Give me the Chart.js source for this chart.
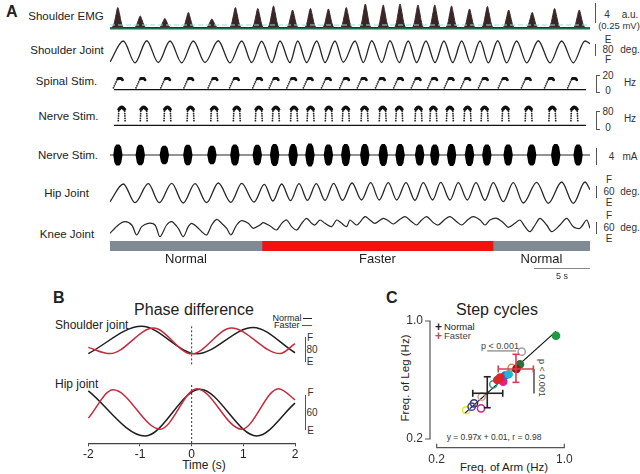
<!DOCTYPE html>
<html>
<head>
<meta charset="utf-8">
<script src="https://cdn.jsdelivr.net/npm/chart.js@4.4.1/dist/chart.umd.min.js"></script>
<style>
  body { margin: 0; background: #fff; }
  #fig { position: relative; width: 640px; height: 474px; overflow: hidden; font-family: 'Liberation Sans', Arial, sans-serif; color: #222; }
  #fig canvas { position: absolute; }
  .t { position: absolute; white-space: nowrap; line-height: 1; transform: translate(-50%, -50%); font-size: 11.5px; }
  .tl { position: absolute; white-space: nowrap; line-height: 1; transform: translate(0, -50%); font-size: 12px; }
  .tr { position: absolute; white-space: nowrap; line-height: 1; transform: translate(-100%, -50%); font-size: 9px; }
  .u { position: absolute; white-space: nowrap; line-height: 1; transform: translate(-50%, -50%); font-size: 10px; color: #333; }
  .vb { position: absolute; width: 0; border-left: 1px solid #555; }
  .br { position: absolute; width: 3px; border: 1px solid #555; border-right: none; }
  .hb { position: absolute; height: 0; border-top: 1px solid #777; }
</style>
</head>
<body>
<div id="fig">
  <!-- panel A -->
  <div class="tl" style="left:6px;top:12px;font-size:16px;font-weight:bold">A</div>
  <div class="t" style="left:66px;top:17px">Shoulder EMG</div>
  <div class="t" style="left:67px;top:50.5px">Shoulder Joint</div>
  <div class="t" style="left:66.5px;top:82px">Spinal Stim.</div>
  <div class="t" style="left:68.5px;top:116.5px">Nerve Stim.</div>
  <div class="t" style="left:68px;top:156px">Nerve Stim.</div>
  <div class="t" style="left:66.5px;top:194px">Hip Joint</div>
  <div class="t" style="left:67px;top:235px">Knee Joint</div>

  <div class="vb" style="left:595px;top:3px;height:20px"></div>
  <div class="u" style="left:607px;top:15px">4</div>
  <div class="u" style="left:630px;top:15px">a.u.</div>
  <div class="u" style="left:619px;top:25.5px;font-size:9.5px">(0.25 mV)</div>

  <div class="vb" style="left:595px;top:44px;height:12px"></div>
  <div class="u" style="left:608px;top:40px">E</div>
  <div class="u" style="left:608px;top:49.5px">80</div>
  <div class="u" style="left:608px;top:60px">F</div>
  <div class="u" style="left:630px;top:49.5px">deg.</div>

  <div class="br" style="left:596px;top:75px;height:16px"></div>
  <div class="u" style="left:608px;top:76px">20</div>
  <div class="u" style="left:608px;top:91px">0</div>
  <div class="u" style="left:630px;top:83px">Hz</div>

  <div class="br" style="left:596px;top:111px;height:17px"></div>
  <div class="u" style="left:608px;top:111.5px">80</div>
  <div class="u" style="left:608px;top:127.5px">0</div>
  <div class="u" style="left:630px;top:119px">Hz</div>

  <div class="vb" style="left:596px;top:148px;height:17px"></div>
  <div class="u" style="left:611.5px;top:156.5px">4</div>
  <div class="u" style="left:630px;top:156.5px">mA</div>

  <div class="vb" style="left:596px;top:186px;height:12px"></div>
  <div class="u" style="left:609px;top:180px">F</div>
  <div class="u" style="left:609px;top:191.7px">60</div>
  <div class="u" style="left:609px;top:202.7px">E</div>
  <div class="u" style="left:630px;top:191.7px">deg.</div>

  <div class="vb" style="left:596px;top:221.5px;height:12px"></div>
  <div class="u" style="left:609px;top:216px">F</div>
  <div class="u" style="left:609px;top:227.7px">60</div>
  <div class="u" style="left:609px;top:239.3px">E</div>
  <div class="u" style="left:630px;top:228px">deg.</div>

  <!-- panel B -->
  <div class="tl" style="left:53px;top:298px;font-size:16px;font-weight:bold">B</div>
  <div class="t" style="left:194px;top:310px;font-size:16px">Phase difference</div>
  <div class="tr" style="left:301.5px;top:317.5px">Normal</div>
  <div class="hb" style="left:303px;top:318px;width:9px;border-color:#222"></div>
  <div class="tr" style="left:299.5px;top:324.5px">Faster</div>
  <div class="hb" style="left:302px;top:324.5px;width:10px;border-color:#c8283c"></div>
  <div class="tl" style="left:55px;top:325px">Shoulder joint</div>
  <div class="tl" style="left:55px;top:383.5px">Hip joint</div>
  <div class="t" style="left:204px;top:465px;font-size:12px">Time (s)</div>
  <div class="vb" style="left:305px;top:337px;height:25px"></div>
  <div class="u" style="left:310px;top:337.7px">F</div>
  <div class="u" style="left:312px;top:350px">80</div>
  <div class="u" style="left:310px;top:362.3px">E</div>
  <div class="vb" style="left:305px;top:395px;height:35px"></div>
  <div class="u" style="left:310.5px;top:393.3px">F</div>
  <div class="u" style="left:312px;top:413.3px">60</div>
  <div class="u" style="left:310.5px;top:430.7px">E</div>

  <!-- panel C -->
  <div class="tl" style="left:386px;top:298px;font-size:16px;font-weight:bold">C</div>
  <div class="t" style="left:497px;top:310px;font-size:16px">Step cycles</div>
  <div class="t" style="left:438.5px;top:326.5px;font-size:12px;font-weight:bold">+</div>
  <div class="tl" style="left:444px;top:326.5px;font-size:9.5px">Normal</div>
  <div class="t" style="left:438.5px;top:336px;font-size:12px;font-weight:bold;color:#d2404f">+</div>
  <div class="tl" style="left:444px;top:336px;font-size:9.5px;color:#444">Faster</div>
  <div class="t" style="left:500px;top:346px;font-size:9px;color:#444">p &lt; 0.001</div>
  <div class="t" style="left:541px;top:378px;font-size:9px;color:#444;transform:translate(-50%,-50%) rotate(90deg)">p &lt; 0.001</div>
  <div class="t" style="left:494px;top:437px;font-size:8.5px;color:#333">y = 0.97x + 0.01, r = 0.98</div>
  <div class="t" style="left:504px;top:467.5px">Freq. of Arm (Hz)</div>
  <div class="t" style="left:406px;top:378px;transform:translate(-50%,-50%) rotate(-90deg)">Freq. of Leg (Hz)</div>
</div>

<script>
// ---- Panel A data (time in s) ----
const TOTAL_S = 42.86;

const conditionLabels = ['Normal', 'Faster', 'Normal'];
const conditionStart = [0, 13.57, 34.2];
const conditionEnd = [13.57, 34.2, 42.86];
const conditionColors = ['#7f8a94', '#f41010', '#7f8a94'];

const emgBurstTimes = [0.7, 2.7, 4.9, 7.0, 9.1, 11.2, 13.2, 14.6, 16.3, 17.9, 19.5, 21.1, 22.8, 24.4, 25.9, 27.5, 29.0, 30.5, 32.1, 33.7, 35.6, 37.7, 39.7, 41.9];
const emgBurstPeaks = [4.0, 2.3, 1.8, 3.0, 1.7, 4.0, 3.8, 4.3, 3.5, 3.8, 3.7, 4.0, 4.7, 4.5, 4.7, 4.5, 4.5, 4.3, 3.7, 4.2, 3.5, 3.0, 3.8, 3.5];
const emgShapeDt = [-0.5, -0.32, -0.16, 0, 0.14, 0.32, 0.5];
const emgShapeFrac = [0, 0.22, 0.65, 1, 0.7, 0.22, 0];

const shoulderTimes = [0, 1.19, 2.23, 3.28, 4.31, 5.36, 6.40, 7.44, 8.48, 9.67, 10.71, 11.76, 12.65, 13.54, 14.44, 15.18, 16.07, 16.76, 17.56, 18.46, 19.20, 20.09, 20.83, 21.88, 22.62, 23.37, 24.26, 25.00, 25.83, 26.63, 27.38, 28.21, 29.02, 29.82, 30.60, 31.40, 32.21, 33.04, 33.78, 34.62, 35.42, 36.31, 37.21, 38.24, 39.29, 40.33, 41.37, 42.41, 42.86];
const shoulderDeg = [-38, 40, -41, 41, -40, 40, -41, 40, -40, 41, -41, 40, -40, 39, -40, 40, -40, 40, -40, 40, -40, 40, -39, 40, -40, 41, -40, 41, -40, 40, -40, 40, -40, 40, -40, 40, -41, 40, -41, 41, -41, 40, -41, 41, -41, 40, -41, 40, 30];

const spinalBurstTimes = [0.45, 2.5, 4.75, 6.85, 9.05, 11.0, 13.1, 14.6, 16.2, 17.7, 19.35, 21.0, 22.6, 24.25, 25.9, 27.5, 29.0, 30.5, 32.0, 33.6, 35.4, 37.5, 39.6, 41.7];
const spinalRampDt = [-0.5, -0.42, -0.34, -0.26, -0.18];
const spinalRampHz = [3, 6.5, 10, 13.5, 17];
const spinalTopDt = [-0.08, 0, 0.08, 0.16, 0.24, 0.32];
const spinalTopHz = [19, 19.5, 19.5, 19.5, 19, 17];

const nerveBurstTimes = [0.7, 2.7, 4.85, 6.95, 9.1, 11.15, 13.15, 14.7, 16.35, 17.85, 19.5, 21.05, 22.75, 24.4, 25.9, 27.65, 29.0, 30.5, 32.1, 33.65, 35.55, 37.65, 39.8, 41.8];
const nerveTopDt = [-0.24, -0.16, -0.08, 0, 0.08, 0.16, 0.24];
const nerveTopHz = [69, 73, 76, 77, 76, 73, 69];
const nerveLegDt = [-0.31, -0.3, -0.29, -0.28, -0.27, 0.27, 0.28, 0.29, 0.3, 0.31];
const nerveLegHz = [20, 30, 40, 50, 60, 60, 50, 40, 30, 20];

const nerveCurrentAmp = [2.5, 2.4, 2.2, 2.4, 2.2, 2.5, 2.4, 2.6, 2.6, 2.7, 2.5, 2.6, 2.6, 2.6, 2.6, 2.5, 2.5, 2.6, 2.6, 2.5, 2.5, 2.5, 2.6, 2.5];
const blobShapeDt = [-0.42, -0.3, -0.14, 0.14, 0.3, 0.42];
const blobShapeFrac = [0, 0.75, 1, 1, 0.75, 0];

const hipTimes = [0.0, 1.19, 2.23, 3.42, 4.40, 5.51, 6.54, 7.59, 8.63, 9.67, 10.80, 11.76, 12.86, 13.78, 14.55, 15.33, 16.12, 16.88, 17.63, 18.42, 19.20, 19.97, 20.76, 21.61, 22.46, 23.28, 24.04, 24.85, 25.60, 26.43, 27.23, 27.97, 28.81, 29.53, 30.36, 31.10, 31.90, 32.68, 33.48, 34.22, 35.12, 36.01, 36.90, 38.10, 39.13, 40.33, 41.37, 42.41, 42.86];
const hipDeg = [-26, 27, -29, 28, -29, 29, -30, 28, -29, 30, -28, 29, -27, 26, -24, 27, -23, 28, -22, 28, -22, 29, -22, 30, -21, 31, -21, 31, -21, 31, -22, 31, -21, 32, -21, 31, -21, 31, -22, 31, -26, 31, -30, 32, -31, 33, -31, 33, 10];

const kneeTimes = [0.00, 0.74, 1.34, 1.94, 2.38, 2.83, 3.42, 4.02, 4.46, 5.06, 5.51, 6.10, 6.54, 6.99, 7.29, 7.74, 8.19, 8.63, 9.08, 9.53, 9.97, 10.42, 10.80, 11.31, 11.76, 12.35, 12.79, 13.39, 13.69, 14.29, 14.88, 15.33, 15.78, 16.22, 16.67, 17.12, 17.56, 18.01, 18.30, 18.75, 19.20, 19.79, 20.24, 20.69, 21.13, 21.43, 22.03, 22.77, 23.21, 23.66, 24.40, 24.85, 25.29, 25.89, 26.34, 26.94, 27.38, 27.83, 28.28, 28.87, 29.31, 29.91, 30.36, 30.96, 31.40, 31.99, 32.44, 33.04, 33.48, 33.93, 34.53, 35.12, 35.56, 36.16, 36.61, 37.05, 37.50, 37.95, 38.39, 38.99, 39.44, 40.18, 40.78, 41.37, 41.96, 42.56, 42.86];
const kneeDeg = [-19, 6, 16, 6, -24, 1, 11, 6, -29, 6, 16, -4, -29, 1, 11, 1, -14, -24, 6, 23, 11, -4, -24, 6, 19, 11, -4, 6, 13, 3, -9, 11, 21, 1, -9, 11, 26, 11, 6, 21, 11, 1, 21, 11, 1, 21, 6, 31, 21, 11, 26, 19, 9, 23, 31, 16, 6, 21, 31, 13, 6, 23, 31, 16, 6, 23, 31, 21, 6, 21, 26, 13, -1, 11, 21, 1, -14, 6, 26, 6, -14, 6, 26, 1, -4, 21, -4];

// ---- Panel B data ----
const phaseShoulderNormalT = [-2, -0.97, 0.1, 1.19, 2];
const phaseShoulderNormalDeg = [-64, 63, -65, 58, -60];
const phaseShoulderFasterT = [-2, -1.58, -0.74, 0.0, 0.77, 1.71, 2];
const phaseShoulderFasterDeg = [-35, -64, 55, -65, 55, -64, -17];
const phaseHipNormalT = [-2, -0.9, 0.16, 1.26, 2];
const phaseHipNormalDeg = [38, -43, 41, -43, 16];
const phaseHipFasterT = [-2, -1.52, -0.61, 0.1, 0.97, 1.68, 2];
const phaseHipFasterDeg = [-11, 40, -31, 42, -31, 42, 22];

// ---- Panel C data ----
const armFreq = [0.384, 0.434, 0.419, 0.478, 0.482, 0.555, 0.617, 0.628, 0.597, 0.58, 0.651, 0.67, 0.733, 0.722, 0.70, 0.948];
const legFreq = [0.395, 0.442, 0.419, 0.408, 0.487, 0.571, 0.589, 0.629, 0.616, 0.60, 0.639, 0.683, 0.792, 0.706, 0.675, 0.90];
const subjectColors = ['#e6e619', '#2d2d7a', '#4a3c9c', '#d61f8c', '#c9a68a', '#2a9a9a', '#e0208a', '#2f6fd6', '#e02424', '#d82a2a', '#22b4d6', '#d4864a', '#a0a0a0', '#2f6e3e', '#a51414', '#1f9a44'];
const subjectFilled = [false, false, false, false, false, false, true, true, true, true, true, false, false, true, true, true];
const normalMean = [0.517, 0.51];
const normalArmRange = [0.426, 0.614];
const normalLegRange = [0.412, 0.622];
const fasterMean = [0.697, 0.675];
const fasterArmRange = [0.586, 0.806];
const fasterLegRange = [0.584, 0.774];
const fitSlope = 0.97;
const fitIntercept = 0.01;
const fitArmRange = [0.377, 0.948];
const armPBracketLeg = 0.797;
const legPBracketArm = 0.81;
const cTickValues = [0.2, 1.0];

Chart.defaults.font.family = "'Liberation Sans', Arial, sans-serif";
Chart.defaults.color = '#222';

const fig = document.getElementById('fig');

function addChart(left, top, width, height, config) {
    const c = document.createElement('canvas');
    c.width = width;
    c.height = height;
    c.style.left = left + 'px';
    c.style.top = top + 'px';
    fig.appendChild(c);
    config.options = Object.assign({ responsive: false, animation: false, devicePixelRatio: 1, events: [] }, config.options);
    return new Chart(c, config);
}

function xy(xs, ys) {
    return xs.map((x, i) => ({ x: x, y: ys[i] }));
}

function burstPoints(times, dts, vals, scales) {
    const pts = [];
    times.forEach((t, i) => {
        const k = scales ? scales[i] : 1;
        dts.forEach((d, j) => pts.push({ x: t + d, y: vals[j] * k }));
    });
    return pts;
}

function flat(y, x0, x1) {
    return [{ x: x0, y: y }, { x: x1, y: y }];
}

function lineSet(data, color, width, extra) {
    return Object.assign({ data, showLine: true, borderColor: color, backgroundColor: color, borderWidth: width, pointRadius: 0, fill: false, tension: 0, clip: false }, extra || {});
}

function dotSet(data, color, radius) {
    return { data, showLine: false, pointRadius: radius, pointBackgroundColor: color, pointBorderWidth: 0, borderColor: color, clip: false };
}

function traceOptions(ymin, ymax) {
    return {
        layout: { padding: 0 },
        plugins: { legend: { display: false }, tooltip: { enabled: false } },
        scales: {
            x: { type: 'linear', min: 0, max: TOTAL_S, display: false },
            y: { min: ymin, max: ymax, display: false }
        }
    };
}

const A_LEFT = 110, A_WIDTH = 480;
const TRACE = '#262626';

// Shoulder EMG
addChart(A_LEFT, 0, A_WIDTH, 32, {
    type: 'line',
    data: { datasets: [
        lineSet(flat(0.5, 0, TOTAL_S), '#8fe0da', 1.2, { borderDash: [5, 3] }),
        lineSet(burstPoints(emgBurstTimes, emgShapeDt, emgShapeFrac, emgBurstPeaks), '#3a2626', 1, { fill: 'origin', cubicInterpolationMode: 'monotone' }),
        lineSet(flat(-0.15, 0, TOTAL_S), '#1f6b4b', 2.6)
    ] },
    options: traceOptions(-0.9, 5.5)
});

// Shoulder joint
addChart(A_LEFT, 36, A_WIDTH, 32, {
    type: 'line',
    data: { datasets: [lineSet(xy(shoulderTimes, shoulderDeg), TRACE, 1.3, { cubicInterpolationMode: 'monotone' })] },
    options: traceOptions(-60.4, 58.6)
});

// Spinal stim
addChart(A_LEFT, 70, A_WIDTH, 26, {
    type: 'line',
    data: { datasets: [
        dotSet(burstPoints(spinalBurstTimes, spinalTopDt, spinalTopHz), '#111', 1.4),
        dotSet(burstPoints(spinalBurstTimes, spinalRampDt, spinalRampHz), '#222', 0.9),
        lineSet(flat(0, 0, TOTAL_S), '#111', 1.3)
    ] },
    options: traceOptions(-4.24, 27.3)
});

// Nerve stim (Hz)
addChart(A_LEFT, 98, A_WIDTH, 34, {
    type: 'line',
    data: { datasets: [
        dotSet(burstPoints(nerveBurstTimes, nerveTopDt, nerveTopHz), '#111', 1.7),
        dotSet(burstPoints(nerveBurstTimes, nerveLegDt, nerveLegHz), '#222', 0.9),
        lineSet(flat(0, 0, TOTAL_S), '#111', 1.3)
    ] },
    options: traceOptions(-11.4, 99.7)
});

// Nerve stim (mA)
const blobUpper = burstPoints(nerveBurstTimes, blobShapeDt, blobShapeFrac, nerveCurrentAmp);
addChart(A_LEFT, 140, A_WIDTH, 30, {
    type: 'line',
    data: { datasets: [
        lineSet(blobUpper, '#000', 0, { fill: 'origin' }),
        lineSet(blobUpper.map(p => ({ x: p.x, y: -p.y })), '#000', 0, { fill: 'origin' }),
        lineSet(flat(0, 0, TOTAL_S), '#6f6f6f', 1.5)
    ] },
    options: traceOptions(-3.53, 3.53)
});

// Hip joint
addChart(A_LEFT, 178, A_WIDTH, 30, {
    type: 'line',
    data: { datasets: [lineSet(xy(hipTimes, hipDeg), TRACE, 1.3, { cubicInterpolationMode: 'monotone' })] },
    options: traceOptions(-45, 45)
});

// Knee joint
addChart(A_LEFT, 211, A_WIDTH, 30, {
    type: 'line',
    data: { datasets: [lineSet(xy(kneeTimes, kneeDeg), TRACE, 1.2, { tension: 0.3 })] },
    options: traceOptions(-42, 48)
});

// condition bar
const condChart = addChart(A_LEFT, 241, A_WIDTH, 10, {
    type: 'bar',
    data: {
        labels: ['cond'],
        datasets: conditionLabels.map((name, i) => ({
            label: name,
            data: [[conditionStart[i], conditionEnd[i]]],
            backgroundColor: conditionColors[i],
            borderWidth: 0,
            grouped: false,
            barPercentage: 1,
            categoryPercentage: 1
        }))
    },
    options: {
        indexAxis: 'y',
        layout: { padding: 0 },
        plugins: { legend: { display: false }, tooltip: { enabled: false } },
        scales: {
            x: { type: 'linear', min: 0, max: TOTAL_S, display: false },
            y: { display: false }
        }
    }
});

const condX = condChart.scales.x;
conditionLabels.forEach((name, i) => {
    const d = document.createElement('div');
    d.className = 't';
    d.style.cssText = `left:${A_LEFT + condX.getPixelForValue((conditionStart[i] + conditionEnd[i]) / 2)}px;top:257.5px;font-size:13px`;
    d.textContent = name;
    fig.appendChild(d);
});
// 5 s scale bar
const sbLeft = A_LEFT + condX.getPixelForValue(TOTAL_S - 5);
const sbRight = A_LEFT + condX.getPixelForValue(TOTAL_S);
const sb = document.createElement('div');
sb.className = 'hb';
sb.style.cssText = `left:${sbLeft}px;top:268px;width:${sbRight - sbLeft}px;border-color:#888`;
fig.appendChild(sb);
const sbt = document.createElement('div');
sbt.className = 'u';
sbt.style.cssText = `left:${(sbLeft + sbRight) / 2}px;top:276px;font-size:9px`;
sbt.textContent = '5 s';
fig.appendChild(sbt);

// ---- Panel B ----
const NORMAL_C = '#1e1e1e', FASTER_C = '#c8283c';

function phaseOptions(ymin, ymax, showX) {
    return {
        layout: { padding: { left: 10.3, right: 10, top: 0, bottom: 0 } },
        plugins: { legend: { display: false }, tooltip: { enabled: false } },
        scales: {
            x: {
                type: 'linear', min: -2, max: 2, display: showX,
                afterFit: (s) => { s.height = 19.7; },
                ticks: { stepSize: 1, padding: 1, color: '#222', font: { size: 12 } },
                grid: { display: true, drawOnChartArea: false, drawTicks: true, tickLength: 3, color: '#444' },
                border: { display: true, color: '#444', width: 1.2 }
            },
            y: { min: ymin, max: ymax, display: false }
        }
    };
}

addChart(78, 322, 227, 63, {
    type: 'line',
    data: { datasets: [
        lineSet(xy(phaseShoulderFasterT, phaseShoulderFasterDeg), FASTER_C, 1.5, { cubicInterpolationMode: 'monotone' }),
        lineSet(xy(phaseShoulderNormalT, phaseShoulderNormalDeg), NORMAL_C, 1.5, { cubicInterpolationMode: 'monotone' }),
        lineSet([{ x: 0, y: 63 }, { x: 0, y: -118.4 }], '#333', 1, { borderDash: [2, 2] })
    ] },
    options: phaseOptions(-118.4, 83.2, false)
});

addChart(78, 385, 227, 78, {
    type: 'line',
    data: { datasets: [
        lineSet(xy(phaseHipFasterT, phaseHipFasterDeg), FASTER_C, 1.5, { cubicInterpolationMode: 'monotone' }),
        lineSet(xy(phaseHipNormalT, phaseHipNormalDeg), NORMAL_C, 1.5, { cubicInterpolationMode: 'monotone' }),
        lineSet([{ x: 0, y: 48.6 }, { x: 0, y: -56.3 }], '#333', 1, { borderDash: [2, 2] })
    ] },
    options: phaseOptions(-56.3, 48.6, true)
});

// ---- Panel C ----
function errorBarSets(mean, xr, yr, color) {
    return [
        { data: [{ x: xr[0], y: mean[1] }, { x: xr[1], y: mean[1] }], showLine: true, borderColor: color, borderWidth: 1.6,
          pointStyle: 'line', pointRotation: 90, pointRadius: 3.5, pointBorderColor: color, pointBorderWidth: 1.6, clip: false },
        { data: [{ x: mean[0], y: yr[0] }, { x: mean[0], y: yr[1] }], showLine: true, borderColor: color, borderWidth: 1.6,
          pointStyle: 'line', pointRotation: 0, pointRadius: 3.5, pointBorderColor: color, pointBorderWidth: 1.6, clip: false }
    ];
}

const spinePlugin = {
    id: 'spines',
    afterDraw(chart) {
        const { ctx, chartArea, scales } = chart;
        const x0 = scales.x.getPixelForValue(cTickValues[0]), x1 = scales.x.getPixelForValue(cTickValues[1]);
        const y0 = scales.y.getPixelForValue(cTickValues[0]), y1 = scales.y.getPixelForValue(cTickValues[1]);
        ctx.save();
        ctx.strokeStyle = '#555';
        ctx.lineWidth = 1.2;
        ctx.beginPath();
        ctx.moveTo(chartArea.left - 5, y1);
        ctx.lineTo(chartArea.left, y1);
        ctx.lineTo(chartArea.left, y0);
        ctx.lineTo(chartArea.left - 5, y0);
        ctx.moveTo(x0, chartArea.bottom - 4);
        ctx.lineTo(x0, chartArea.bottom);
        ctx.lineTo(x1, chartArea.bottom);
        ctx.lineTo(x1, chartArea.bottom - 4);
        ctx.stroke();
        ctx.restore();
    }
};

const cTicks = {
    padding: 7, color: '#333', font: { size: 12 },
    callback: (v) => Number(v).toFixed(1)
};

addChart(370, 285, 270, 189, {
    type: 'scatter',
    data: { datasets: [
        ...errorBarSets(normalMean, normalArmRange, normalLegRange, '#222'),
        ...errorBarSets(fasterMean, fasterArmRange, fasterLegRange, '#d2404f'),
        {
            data: xy(armFreq, legFreq),
            pointRadius: 3.6,
            pointBackgroundColor: subjectColors.map((c, i) => subjectFilled[i] ? c : 'rgba(255,255,255,0)'),
            pointBorderColor: subjectColors,
            pointBorderWidth: 1.5,
            clip: false
        },
        lineSet(fitArmRange.map(a => ({ x: a, y: fitSlope * a + fitIntercept })), '#111', 1.2),
        lineSet([{ x: normalMean[0], y: armPBracketLeg }, { x: fasterMean[0], y: armPBracketLeg }], '#666', 1),
        lineSet([{ x: legPBracketArm, y: fasterMean[1] }, { x: legPBracketArm, y: normalMean[1] }], '#666', 1)
    ] },
    options: {
        layout: { padding: { left: 20, right: 75.7, top: 36, bottom: 9.3 } },
        plugins: { legend: { display: false }, tooltip: { enabled: false } },
        scales: {
            x: {
                type: 'linear', min: 0.158, max: 1.0,
                afterBuildTicks: (axis) => { axis.ticks = cTickValues.map(v => ({ value: v })); },
                afterFit: (s) => { s.height = 17; },
                ticks: Object.assign({}, cTicks, { padding: 5 }),
                grid: { display: false, drawTicks: false },
                border: { display: false }
            },
            y: {
                type: 'linear', min: 0.141, max: 1.0,
                afterBuildTicks: (axis) => { axis.ticks = cTickValues.map(v => ({ value: v })); },
                afterFit: (s) => { s.width = 40; },
                ticks: cTicks,
                grid: { display: false, drawTicks: false },
                border: { display: false }
            }
        }
    },
    plugins: [spinePlugin]
});
</script>
</body>
</html>
